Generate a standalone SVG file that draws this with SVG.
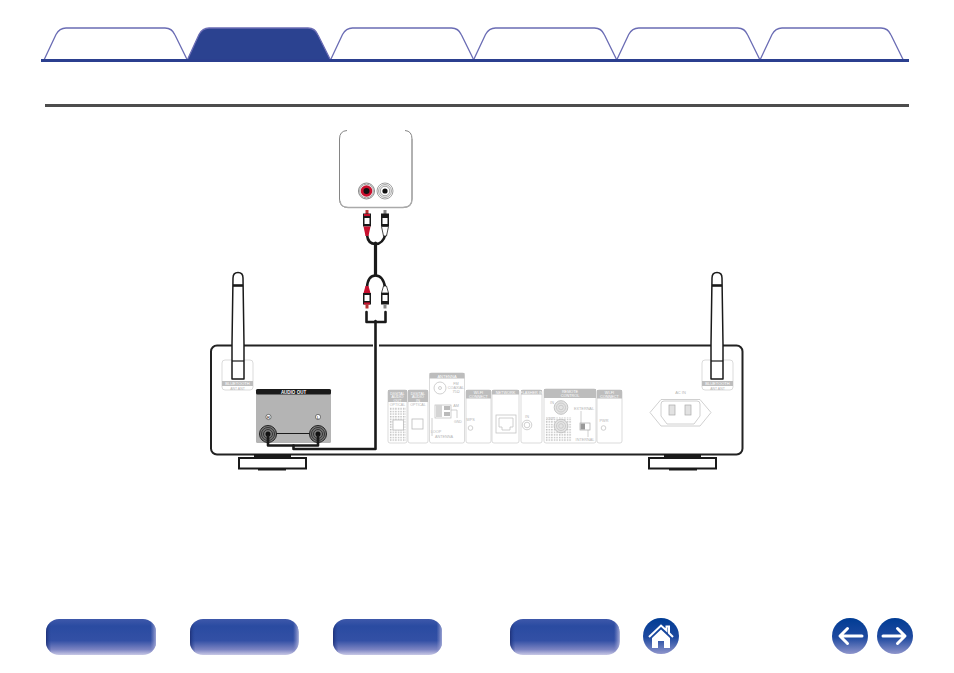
<svg xmlns="http://www.w3.org/2000/svg" width="954" height="673" viewBox="0 0 954 673">
<style>
text{font-family:"Liberation Sans",Arial,sans-serif;fill:#b5b5b5;text-anchor:middle}
.tab{fill:#fff;stroke:#6a6cb4;stroke-width:1.3;stroke-linejoin:round}
.tabon{fill:#2b4290;stroke:#6a6cb4;stroke-width:1.3;stroke-linejoin:round}
.pn{fill:#fff;stroke:#d2d2d2;stroke-width:.8}
.hd{fill:#bdbdbd}
.ln{fill:none;stroke:#c4c4c4;stroke-width:.8}
.cable{fill:none;stroke:#1a1a1a;stroke-width:2.6;stroke-linejoin:round;stroke-linecap:round}
.thick{fill:none;stroke:#1a1a1a;stroke-width:3.2;stroke-linecap:round}
.btn{fill:url(#bv)}
.ed{fill:url(#bh)}
.foot{fill:#fff;stroke:#1a1a1a;stroke-width:2}
.ant{fill:#fff;stroke:#1a1a1a;stroke-width:1.5;stroke-linejoin:round}
.jack{fill:none;stroke:#333;stroke-width:1}
.ring{fill:none;stroke:#888;stroke-width:.8}
</style>
<defs>
<linearGradient id="bv" x1="0" y1="0" x2="0" y2="1"><stop offset="0" stop-color="#3e58aa"/><stop offset=".2" stop-color="#2a4ba1"/><stop offset=".6" stop-color="#3350a5"/><stop offset=".85" stop-color="#7c84c2"/><stop offset="1" stop-color="#c9c9e6"/></linearGradient>
<linearGradient id="bh" x1="0" y1="0" x2="1" y2="0"><stop offset="0" stop-color="#1c2c70" stop-opacity=".85"/><stop offset=".05" stop-color="#2a4ba1" stop-opacity="0"/><stop offset=".95" stop-color="#9a9ed0" stop-opacity="0"/><stop offset="1" stop-color="#b5b7de" stop-opacity=".8"/></linearGradient>
<linearGradient id="cv" x1="0" y1="0" x2="0" y2="1"><stop offset="0" stop-color="#003c94"/><stop offset=".55" stop-color="#1f4aa0"/><stop offset="1" stop-color="#8f95cc"/></linearGradient>
<pattern id="dots" width="2.6" height="2.6" patternUnits="userSpaceOnUse"><rect width="1.4" height="1.4" fill="#bdbdbd"/></pattern>
<path id="tabshape" d="M0 33 L12 7.500 Q15.500 1 22 1 L121 1 Q128 1 131 8 L143.300 33"/>
</defs>

<g id="tabs">
<use href="#tabshape" x="44" y="27" class="tab"/>
<use href="#tabshape" x="330.500" y="27" class="tab"/>
<use href="#tabshape" x="473.500" y="27" class="tab"/>
<use href="#tabshape" x="616.700" y="27" class="tab"/>
<use href="#tabshape" x="760" y="27" class="tab"/>
<path class="tabon" d="M187.300 60 L199 34.500 Q202.500 28 209 28 L308 28 Q315 28 318 35 L330.500 60Z"/>
<rect x="41" y="59" width="868" height="3" fill="#2b3f8f"/>
<rect x="45" y="104" width="864" height="3" fill="#4d4d4d"/>
</g>

<g id="speaker-box">
<path d="M347 130.500Q339.500 131 339.500 139V199Q339.500 207.500 348 207.500H403Q412 207.500 412 199V139Q412 131 405 130.500" fill="#fff" stroke="#777" stroke-width=".9"/>
<path d="M340 201Q341 207.500 348 207.500H403Q412 207.500 412 199V139" fill="none" stroke="#aaa" stroke-width="1.300"/>
<g id="jack-red">
<circle cx="366.500" cy="191" r="8" fill="#fff" stroke="#666" stroke-width=".8"/>
<circle class="ring" cx="366.500" cy="191" r="6.800"/>
<circle cx="366.500" cy="191" r="5.800" fill="#c8102e"/>
<circle cx="366.500" cy="191" r="3" fill="#111"/>
</g>
<g id="jack-white">
<circle cx="385" cy="191" r="8" fill="#fff" stroke="#888" stroke-width=".8"/>
<circle class="ring" cx="385" cy="191" r="6.400"/>
<circle class="ring" cx="385" cy="191" r="4.800"/>
<circle cx="385" cy="191" r="2.600" fill="#111"/>
</g>
</g>

<g id="device">
<rect x="211" y="345.500" width="531.500" height="109" rx="6" fill="#fff" stroke="#222" stroke-width="2"/>
<rect x="373" y="343" width="6" height="5" fill="#fff"/>

<g id="wifi-left">
<rect class="pn" x="222" y="360" width="31" height="30" rx="3"/>
<rect class="hd" x="222" y="381" width="31" height="5"/>
<text x="237.500" y="385.200" font-size="4" style="fill:#fff">BLUETOOTH</text>
<text x="237.500" y="390" font-size="3.500">ANT  ANT</text>
</g>
<g id="wifi-right">
<rect class="pn" x="702" y="360" width="31" height="30" rx="3"/>
<rect class="hd" x="702" y="381" width="31" height="5"/>
<text x="717.500" y="385.200" font-size="4" style="fill:#fff">BLUETOOTH</text>
<text x="717.500" y="390" font-size="3.500">ANT  ANT</text>
</g>

<g id="audio-out">
<rect x="256" y="389" width="75" height="54" rx="1.500" fill="#b4b4b4"/>
<rect x="256" y="389" width="75" height="5.500" rx="1.500" fill="#1a1a1a"/>
<text x="293.500" y="393.500" font-size="4.500" font-weight="bold" style="fill:#fff">AUDIO OUT</text>
<circle cx="268.500" cy="417" r="2.600" fill="#fff" stroke="#333" stroke-width=".6"/>
<text x="268.500" y="418.600" font-size="4.200" style="fill:#111">R</text>
<circle cx="318" cy="417" r="2.600" fill="#fff" stroke="#333" stroke-width=".6"/>
<text x="318" y="418.600" font-size="4.200" style="fill:#111">L</text>
<path d="M268 433.500H318" stroke="#1a1a1a" stroke-width="1" fill="none"/>
<circle cx="268" cy="434" r="8.500" fill="#777" stroke="#222" stroke-width="1"/>
<circle class="jack" cx="268" cy="434" r="6.500"/>
<circle class="jack" cx="268" cy="434" r="4.500"/>
<circle cx="268" cy="434" r="2.500" fill="#111"/>
<circle cx="318" cy="434" r="8.500" fill="#777" stroke="#222" stroke-width="1"/>
<circle class="jack" cx="318" cy="434" r="6.500"/>
<circle class="jack" cx="318" cy="434" r="4.500"/>
<circle cx="318" cy="434" r="2.500" fill="#111"/>
</g>

<g id="digital-1">
<rect class="pn" x="388" y="390" width="19" height="53" rx="2"/>
<rect class="hd" x="388" y="390" width="19" height="12"/>
<text x="397.500" y="394.500" font-size="3.800" style="fill:#fff">DIGITAL</text>
<text x="397.500" y="398" font-size="3.800" style="fill:#fff">AUDIO</text>
<text x="397.500" y="401.500" font-size="3.800" style="fill:#fff">OUT</text>
<text x="397.500" y="406" font-size="3.600">OPTICAL</text>
<rect x="389" y="407" width="17" height="35" fill="url(#dots)"/>
<rect x="393" y="420" width="10.500" height="10" fill="#fff" stroke="#bbb" stroke-width=".8"/>
</g>
<g id="digital-2">
<rect class="pn" x="408" y="390" width="20" height="53" rx="2"/>
<rect class="hd" x="408" y="390" width="20" height="12"/>
<text x="418" y="394.500" font-size="3.800" style="fill:#fff">DIGITAL</text>
<text x="418" y="398" font-size="3.800" style="fill:#fff">AUDIO</text>
<text x="418" y="401.500" font-size="3.800" style="fill:#fff">IN</text>
<text x="418" y="406" font-size="3.600">OPTICAL</text>
<rect x="412" y="419" width="11" height="10" fill="#fff" stroke="#bbb" stroke-width=".8"/>
</g>
<g id="antenna">
<rect class="pn" x="429.500" y="373" width="35" height="70" rx="2"/>
<rect class="hd" x="429.500" y="373" width="35" height="5.500"/>
<text x="447" y="377.500" font-size="4" style="fill:#fff">ANTENNA</text>
<circle class="ln" cx="440" cy="388" r="6"/>
<circle class="ln" cx="440" cy="388" r="1.500"/>
<text x="456" y="385" font-size="3.800">FM</text>
<text x="456" y="389" font-size="3.800">COAXIAL</text>
<text x="456" y="393" font-size="3.800">75Ω</text>
<rect class="ln" x="435" y="405" width="16" height="13"/>
<rect x="436" y="405" width="6" height="12" fill="#d5d5d5"/>
<rect x="444" y="406" width="6" height="4" fill="#bbb"/>
<rect x="444" y="412" width="6" height="4" fill="#bbb"/>
<text x="456" y="407" font-size="3.800">AM</text>
<path class="ln" d="M451 410H457V418"/>
<text x="458" y="423" font-size="3.500">GND</text>
<text x="436" y="433" font-size="3.800">LOOP</text>
<text x="444" y="438" font-size="3.800">ANTENNA</text>
<path class="ln" d="M432 418V436"/>
</g>
<g id="vrms">
<rect class="pn" x="466" y="390" width="25" height="53" rx="2"/>
<rect class="hd" x="466" y="390" width="25" height="8.500"/>
<text x="478.500" y="393.500" font-size="3.800" style="fill:#fff">WI-FI</text>
<text x="478.500" y="397.500" font-size="3.800" style="fill:#fff">CONNECT</text>
<text x="470.500" y="421" font-size="3.800">WPS</text>
<circle class="ln" cx="470.500" cy="428" r="2.300"/>
</g>
<g id="network">
<rect class="pn" x="492" y="390" width="27" height="53" rx="2"/>
<rect class="hd" x="492" y="390" width="27" height="4.500"/>
<text x="505.500" y="394" font-size="3.800" style="fill:#fff">NETWORK</text>
<rect class="ln" x="496" y="415" width="20" height="18"/>
<path class="ln" d="M499 418H513V427H510V430H502V427H499Z"/>
</g>
<g id="flasher">
<rect class="pn" x="521" y="390" width="21" height="53" rx="2"/>
<rect class="hd" x="521" y="390" width="21" height="4.500"/>
<text x="531.500" y="394" font-size="3.800" style="fill:#fff">FLASHER IN</text>
<text x="527" y="418" font-size="3.800">IN</text>
<circle class="ln" cx="527" cy="425" r="4.800"/>
<circle class="ln" cx="527" cy="425" r="2.800"/>
</g>
<g id="remote">
<rect class="pn" x="544" y="389" width="52" height="54" rx="2"/>
<rect class="hd" x="544" y="389" width="52" height="9"/>
<text x="570" y="393" font-size="3.800" style="fill:#fff">REMOTE</text>
<text x="570" y="397.300" font-size="3.800" style="fill:#fff">CONTROL</text>
<text x="552" y="404" font-size="3.800">IN</text>
<text x="551" y="420" font-size="3.600">OUT</text>
<rect x="545" y="417" width="27" height="25" fill="url(#dots)"/>
<circle cx="561" cy="407.500" r="6.800" fill="#e4e4e4" stroke="#c4c4c4" stroke-width="1"/>
<circle class="ln" cx="561" cy="407.500" r="4.500"/>
<circle class="ln" cx="561" cy="407.500" r="2.300"/>
<circle cx="561" cy="426" r="6.800" fill="#e4e4e4" stroke="#c4c4c4" stroke-width="1"/>
<circle class="ln" cx="561" cy="426" r="4.500"/>
<circle class="ln" cx="561" cy="426" r="2.300"/>
<text x="584" y="410" font-size="3.800">EXTERNAL</text>
<text x="585" y="441" font-size="3.800">INTERNAL</text>
<path class="ln" d="M581 411V423M588 430V437"/>
<rect x="580" y="423" width="10" height="7" fill="#fff" stroke="#aaa" stroke-width=".7"/>
<rect x="580.500" y="423.500" width="4.500" height="6" fill="#999"/>
</g>
<g id="power">
<rect class="pn" x="597" y="390" width="25" height="53" rx="2"/>
<rect class="hd" x="597" y="390" width="25" height="8.500"/>
<text x="609.500" y="393.500" font-size="3.800" style="fill:#fff">WI-FI</text>
<text x="609.500" y="397.500" font-size="3.800" style="fill:#fff">CONNECT</text>
<text x="604" y="422" font-size="3.800">PWR</text>
<circle class="ln" cx="603.500" cy="428" r="2.300"/>
</g>
<g id="ac-in">
<text x="680.500" y="394" font-size="4">AC IN</text>
<path class="ln" d="M661 399.500H700L711 412.500L700 426H661L650 412.500Z" stroke-linejoin="round"/>
<path class="ln" d="M664 401H697Q700 401 700 404V416L694 424H667L661 416V404Q661 401 664 401Z"/>
<rect x="669" y="405" width="6" height="10" fill="#e2e2e2" stroke="#aaa" stroke-width=".7"/>
<rect x="685" y="405" width="6" height="10" fill="#e2e2e2" stroke="#aaa" stroke-width=".7"/>
</g>
</g>

<g id="antenna-left">
<path class="ant" d="M233 278Q233 272.500 238 272.500Q243 272.500 243 278L244 344V379H232V344Z"/>
<path d="M233 285.500H243" stroke="#1a1a1a" stroke-width="2.600"/>
<path d="M232 361H244" stroke="#1a1a1a" stroke-width="1.200"/>
</g>
<g id="antenna-right">
<path class="ant" d="M712 278Q712 272.500 717 272.500Q722 272.500 722 278L723 344V379H711V344Z"/>
<path d="M712 285.500H722" stroke="#1a1a1a" stroke-width="2.600"/>
<path d="M711 361H723" stroke="#1a1a1a" stroke-width="1.200"/>
</g>

<g id="foot-left">
<rect x="254" y="454" width="37" height="3" fill="#1a1a1a"/>
<rect class="foot" x="239" y="458" width="67" height="10.500"/>
<rect x="258" y="469" width="28" height="1.500" fill="#1a1a1a"/>
</g>
<g id="foot-right">
<rect x="664" y="454" width="37" height="3" fill="#1a1a1a"/>
<rect class="foot" x="649" y="458" width="67" height="10.500"/>
<rect x="669" y="469" width="28" height="1.500" fill="#1a1a1a"/>
</g>

<g id="connectors">
<path class="cable" d="M268 436V445.500H318V436"/>
<path class="cable" d="M293.500 445.500V449H375.500V321"/>
<path class="cable" d="M366.500 312V322H385.500V312"/>
<path class="thick" d="M375.500 243V275"/>
<path class="cable" d="M367 235Q368 244 375.500 244Q383 244 385.500 234"/>
<path class="cable" d="M367 287Q368 275.500 375.500 275.500Q383 275.500 385 287"/>
</g>

<g id="plug-upper-red">
<rect x="365.500" y="210" width="3" height="4" fill="#b33"/>
<rect x="363" y="213.500" width="8" height="13" fill="#1a1a1a"/>
<rect x="364" y="214" width="6" height="2" fill="#c8102e"/>
<rect x="364.500" y="218" width="5" height="6" fill="#fff"/>
<path d="M363.500 226.500H370.500L368.500 236H365.500Z" fill="#c8102e"/>
</g>
<g id="plug-upper-white">
<rect x="383.500" y="210" width="3" height="4" fill="#888"/>
<rect x="381" y="213.500" width="8" height="13" fill="#1a1a1a"/>
<rect x="382.500" y="218" width="5" height="6" fill="#fff"/>
<path d="M381.500 226.500H388.500L386.500 236H383.500Z" fill="#fff" stroke="#1a1a1a" stroke-width=".8"/>
</g>
<g id="plug-lower-red">
<path d="M365.500 286H368.500L370.500 293H363.500Z" fill="#c8102e"/>
<rect x="363" y="293" width="8" height="11.500" fill="#1a1a1a"/>
<rect x="364" y="302.500" width="6" height="2" fill="#c8102e"/>
<rect x="364.500" y="295" width="5" height="6" fill="#fff"/>
<rect x="365.500" y="304.500" width="3" height="4" fill="#b33"/>
</g>
<g id="plug-lower-white">
<path d="M383.500 286H386.500L388.500 293H381.500Z" fill="#fff" stroke="#1a1a1a" stroke-width=".8"/>
<rect x="381" y="293" width="8" height="11.500" fill="#1a1a1a"/>
<rect x="382.500" y="295" width="5" height="6" fill="#fff"/>
<rect x="383.500" y="304.500" width="3" height="4" fill="#888"/>
</g>

<g id="btn-1"><rect class="btn" x="46" y="619" width="110" height="36" rx="13"/><rect class="ed" x="46" y="619" width="110" height="36" rx="13"/></g>
<g id="btn-2"><rect class="btn" x="190" y="619" width="108.500" height="36" rx="13"/><rect class="ed" x="190" y="619" width="108.500" height="36" rx="13"/></g>
<g id="btn-3"><rect class="btn" x="333" y="619" width="109" height="36" rx="13"/><rect class="ed" x="333" y="619" width="109" height="36" rx="13"/></g>
<g id="btn-4"><rect class="btn" x="510" y="619" width="109.500" height="36" rx="13"/><rect class="ed" x="510" y="619" width="109.500" height="36" rx="13"/></g>

<g id="btn-home">
<circle cx="661" cy="636" r="18" fill="url(#cv)"/>
<path d="M649 637L661 625.500L666.500 630.500V626.500H669V633L673 637" fill="none" stroke="#fff" stroke-width="2" stroke-linejoin="miter"/>
<path d="M652 638L661 629.500L670 638V648H664V641H658V648H652Z" fill="#fff"/>
</g>
<g id="btn-back">
<circle cx="850" cy="636" r="18" fill="url(#cv)"/>
<path d="M862 636H841M847.500 628.500L840 636L847.500 643.500" fill="none" stroke="#fff" stroke-width="3" stroke-linecap="round" stroke-linejoin="round"/>
</g>
<g id="btn-forward">
<circle cx="895" cy="636" r="18" fill="url(#cv)"/>
<path d="M883 636H904M897.500 628.500L905 636L897.500 643.500" fill="none" stroke="#fff" stroke-width="3" stroke-linecap="round" stroke-linejoin="round"/>
</g>
</svg>
